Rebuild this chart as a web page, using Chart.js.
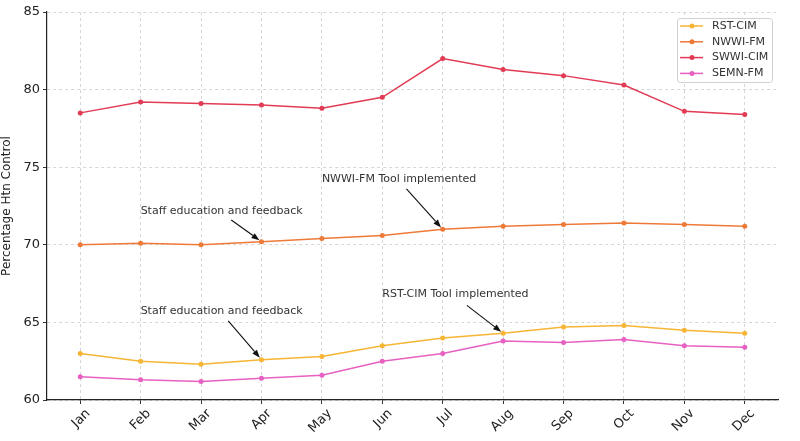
<!DOCTYPE html>
<html>
<head>
<meta charset="utf-8">
<script src="https://cdn.jsdelivr.net/npm/chart.js@4"></script>
<style>
  html, body { margin: 0; padding: 0; background: #fff; }
  #wrap { width: 800px; height: 441px; }
</style>
</head>
<body>
<div id="wrap"><canvas id="htn-chart"></canvas></div>
<script>
// chart data
const months = ['Jan', 'Feb', 'Mar', 'Apr', 'May', 'Jun', 'Jul', 'Aug', 'Sep', 'Oct', 'Nov', 'Dec'];
const seriesNames = ['RST-CIM', 'NWWI-FM', 'SWWI-CIM', 'SEMN-FM'];
const rstCim  = [63.0, 62.5, 62.3, 62.6, 62.8, 63.5, 64.0, 64.3, 64.7, 64.8, 64.5, 64.3];
const nwwiFm  = [70.0, 70.1, 70.0, 70.2, 70.4, 70.6, 71.0, 71.2, 71.3, 71.4, 71.3, 71.2];
const swwiCim = [78.5, 79.2, 79.1, 79.0, 78.8, 79.5, 82.0, 81.3, 80.9, 80.3, 78.6, 78.4];
const semnFm  = [61.5, 61.3, 61.2, 61.4, 61.6, 62.5, 63.0, 63.8, 63.7, 63.9, 63.5, 63.4];
const yTicks = [60, 65, 70, 75, 80, 85];

// annotations: text anchor (month index, value) and arrow tail -> target point
const notes = [
    { text: 'Staff education and feedback', tx: 1, ty: 72.2, ax: 2.5, ay: 71.6, to: 3, series: 1 },
    { text: 'NWWI-FM Tool implemented', tx: 4, ty: 74.2, ax: 5.4, ay: 73.6, to: 6, series: 1 },
    { text: 'Staff education and feedback', tx: 1, ty: 65.7, ax: 2.45, ay: 65.1, to: 3, series: 0 },
    { text: 'RST-CIM Tool implemented', tx: 5, ty: 66.8, ax: 6.4, ay: 66.1, to: 7, series: 0 }
];

const colors = ['#f7b536', '#ee7a38', '#e23b55', '#e860c2'];
const allSeries = [rstCim, nwwiFm, swwiCim, semnFm];

const FONT = 'DejaVu Sans, sans-serif';

// annotation arrows + text
const notesPlugin = {
    id: 'notes',
    afterDatasetsDraw(chart) {
        const ctx = chart.ctx;
        const xs = chart.scales.x, ys = chart.scales.y;
        ctx.save();
        ctx.font = '11px ' + FONT;
        ctx.textAlign = 'left';
        ctx.textBaseline = 'middle';
        notes.forEach(n => {
            ctx.fillStyle = '#333';
            ctx.fillText(n.text, xs.getPixelForValue(n.tx), ys.getPixelForValue(n.ty));

            const x0 = xs.getPixelForValue(n.ax), y0 = ys.getPixelForValue(n.ay);
            let x1 = xs.getPixelForValue(n.to), y1 = ys.getPixelForValue(allSeries[n.series][n.to]);
            const ang = Math.atan2(y1 - y0, x1 - x0);
            // stop just short of the point
            x1 -= Math.cos(ang) * 2.5;
            y1 -= Math.sin(ang) * 2.5;
            const head = 8, half = 3;
            const bx = x1 - Math.cos(ang) * head, by = y1 - Math.sin(ang) * head;
            ctx.strokeStyle = '#111';
            ctx.lineWidth = 1.1;
            ctx.beginPath();
            ctx.moveTo(x0, y0);
            ctx.lineTo(bx, by);
            ctx.stroke();
            ctx.fillStyle = '#111';
            ctx.beginPath();
            ctx.moveTo(x1, y1);
            ctx.lineTo(bx + Math.sin(ang) * half, by - Math.cos(ang) * half);
            ctx.lineTo(bx - Math.sin(ang) * half, by + Math.cos(ang) * half);
            ctx.closePath();
            ctx.fill();
        });
        ctx.restore();
    }
};

// matplotlib style legend box in the upper right
const legendPlugin = {
    id: 'boxLegend',
    afterDraw(chart) {
        const ctx = chart.ctx;
        const area = chart.chartArea;
        const w = 95, h = 64;
        const left = area.right - w - 6, top = area.top + 6;
        ctx.save();
        ctx.fillStyle = 'rgba(255,255,255,0.85)';
        ctx.strokeStyle = '#d0d0d0';
        ctx.lineWidth = 1;
        ctx.beginPath();
        ctx.roundRect(left + 0.5, top + 0.5, w, h, 3);
        ctx.fill();
        ctx.stroke();
        ctx.font = '11px ' + FONT;
        ctx.textBaseline = 'middle';
        ctx.textAlign = 'left';
        chart.data.datasets.forEach((ds, i) => {
            const y = top + 8 + i * 15.8;
            ctx.strokeStyle = ds.borderColor;
            ctx.lineWidth = 1.5;
            ctx.beginPath();
            ctx.moveTo(left + 3, y);
            ctx.lineTo(left + 26, y);
            ctx.stroke();
            ctx.fillStyle = ds.borderColor;
            ctx.beginPath();
            ctx.arc(left + 15, y, 2.5, 0, Math.PI * 2);
            ctx.fill();
            ctx.fillStyle = '#333';
            ctx.fillText(ds.label, left + 35, y);
        });
        ctx.restore();
    }
};

// grid lines are dashed (border.dash in v4), axis lines solid
const gridOpts = { color: '#d6d6d6', lineWidth: 1, tickColor: '#333', tickLength: 4, tickBorderDash: [] };
const borderOpts = { display: true, color: '#222', width: 1.2, dash: [3, 3] };

const ctx = document.getElementById('htn-chart').getContext('2d');
const chart = new Chart(ctx, {
    type: 'line',
    data: {
        datasets: seriesNames.map((name, i) => ({
            label: name,
            data: allSeries[i].map((v, j) => ({ x: j, y: v })),
            borderColor: colors[i],
            backgroundColor: colors[i],
            borderWidth: 1.5,
            pointRadius: 2.5,
            pointHoverRadius: 2.5,
            pointBorderWidth: 0,
            tension: 0
        }))
    },
    options: {
        responsive: true,
        maintainAspectRatio: false,
        animation: false,
        layout: { padding: { top: 12, right: 22, left: 0, bottom: 0 } },
        plugins: {
            legend: { display: false },
            tooltip: { enabled: false }
        },
        scales: {
            x: {
                type: 'linear',
                min: -0.55,
                max: 11.55,
                afterBuildTicks: scale => { scale.ticks = months.map((m, i) => ({ value: i })); },
                afterFit: scale => { scale.height = 41; },
                ticks: {
                    callback: v => months[v],
                    minRotation: 45,
                    maxRotation: 45,
                    labelOffset: 8,
                    padding: 2,
                    color: '#222',
                    font: { family: FONT, size: 13 }
                },
                grid: gridOpts,
                border: borderOpts
            },
            y: {
                min: 60,
                max: 85,
                afterBuildTicks: scale => { scale.ticks = yTicks.map(v => ({ value: v })); },
                afterFit: scale => { scale.width = 47; },
                title: {
                    display: true,
                    text: 'Percentage Htn Control',
                    color: '#222',
                    font: { family: FONT, size: 12 },
                    padding: { top: 0, bottom: 2 }
                },
                ticks: {
                    color: '#222',
                    padding: 3,
                    font: { family: FONT, size: 13 }
                },
                grid: gridOpts,
                border: borderOpts
            }
        }
    },
    plugins: [notesPlugin, legendPlugin]
});
</script>
</body>
</html>
